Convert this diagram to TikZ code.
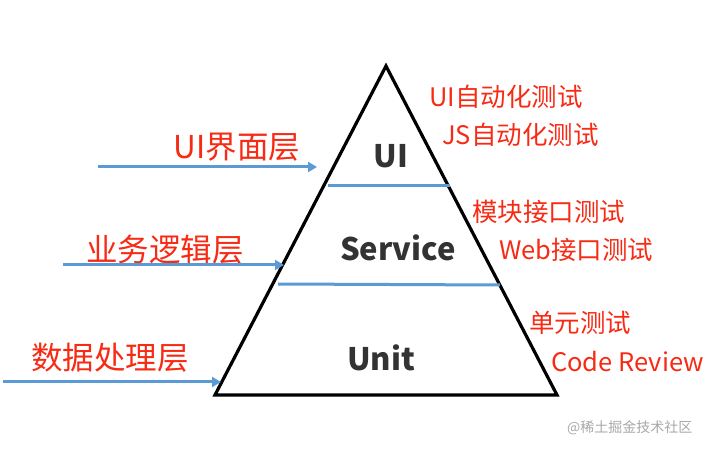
\documentclass[tikz,border=0pt]{standalone}
\usepackage{fontspec}
\setmainfont{Noto Sans CJK SC}
\usetikzlibrary{arrows.meta}
\definecolor{lblred}{HTML}{F72A14}
\definecolor{lnblue}{HTML}{5B9BD5}
\definecolor{dark}{HTML}{333333}
\definecolor{wm}{HTML}{A8A8A8}
\tikzset{
  leftlbl/.style={text=lblred, font=\fontsize{31.5}{31.5}\selectfont, inner sep=0pt},
  rightlbl/.style={text=lblred, font=\fontsize{25.5}{25.5}\selectfont, inner sep=0pt, anchor=west},
  layer/.style={text=dark, font=\fontsize{31}{31}\selectfont\bfseries, inner sep=0pt},
  arrowln/.style={draw=lnblue, line width=3pt, -{Triangle[length=9pt,width=10pt]}},
  sepln/.style={draw=lnblue, line width=3pt},
  tri/.style={draw=black, line width=3.2pt, fill=white, line join=miter}
}
\begin{document}
\begin{tikzpicture}[x=1pt,y=-1pt]
\useasboundingbox (0,0) rectangle (716,449);
\coordinate (apex) at (386,66);
\coordinate (bl) at (215,395);
\coordinate (br) at (557,395);
\draw[tri] (apex) -- (br) -- (bl) -- cycle;
\coordinate (s1a) at (328,186);
\coordinate (s1b) at (450,186);
\coordinate (s2a) at (278,284);
\coordinate (s2b) at (500,285);
\draw[sepln] (s1a) -- (s1b);
\draw[sepln] (s2a) -- (s2b);
\node[layer] (ui) at (391,156) {UI};
\node[layer] (service) at (398,248) {Service};
\node[layer] (unit) at (381,358) {Unit};
% left labels and arrows
\node[leftlbl] (l1) at (237,147) {UI界面层};
\node[leftlbl] (l2) at (165,250) {业务逻辑层};
\node[leftlbl] (l3) at (110,358) {数据处理层};
\coordinate (a1s) at (98,167);
\coordinate (a1e) at (317,167);
\coordinate (a2s) at (63,265);
\coordinate (a2e) at (284,265);
\coordinate (a3s) at (3,382);
\coordinate (a3e) at (221,382);
\draw[arrowln] (a1s) -- (a1e);
\draw[arrowln] (a2s) -- (a2e);
\draw[arrowln] (a3s) -- (a3e);
% right labels
\node[rightlbl] (r1) at (429,97) {UI自动化测试};
\node[rightlbl] (r2) at (442,135) {JS自动化测试};
\node[rightlbl] (r3) at (472,212) {模块接口测试};
\node[rightlbl] (r4) at (499,250) {Web接口测试};
\node[rightlbl] (r5) at (529,323) {单元测试};
\node[rightlbl] (r6) at (551,362) {Code Review};
\node[text=wm, font=\fontsize{14}{14}\selectfont, inner sep=0pt, anchor=west] (wm) at (567,428) {@稀土掘金技术社区};
\end{tikzpicture}
\end{document}
